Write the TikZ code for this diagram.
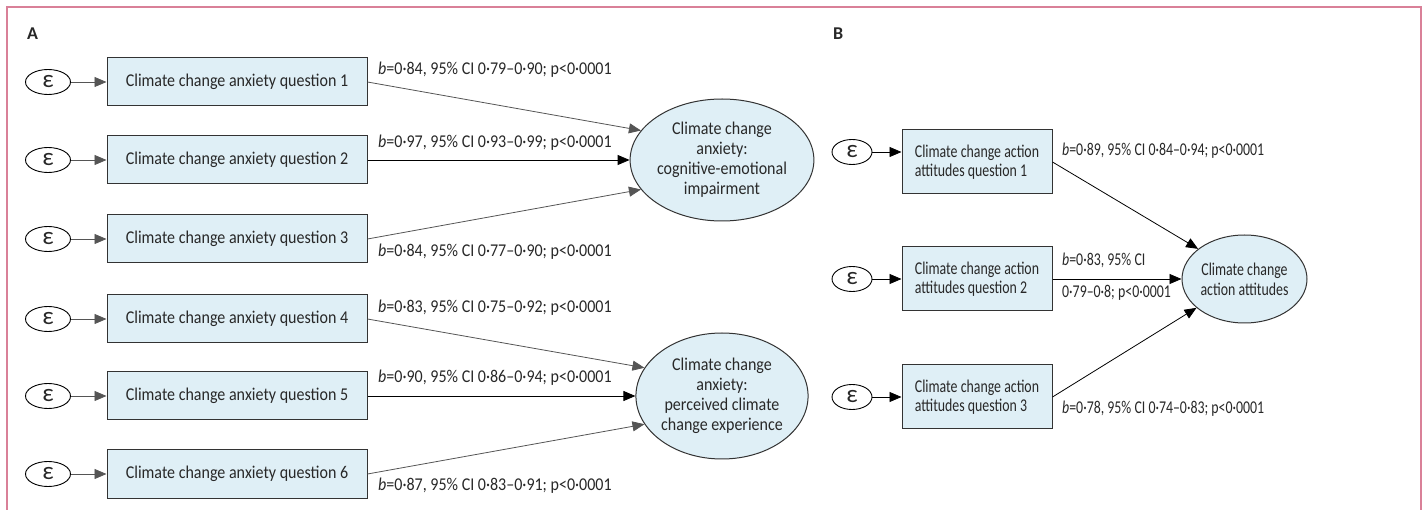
\documentclass[tikz,border=0pt]{standalone}
\usepackage{fontspec}
\setmainfont{Carlito}
\newfontfamily\panelAfont[FakeStretch=0.89]{Carlito}
\newfontfamily\panelBfont[FakeStretch=0.77]{Carlito}
\usetikzlibrary{arrows.meta,shapes.geometric}
\definecolor{framepink}{RGB}{217,128,152}
\definecolor{boxblue}{RGB}{223,239,246}
\definecolor{linegray}{RGB}{85,85,85}
\definecolor{textgray}{RGB}{40,40,40}

\begin{document}
\begin{tikzpicture}[x=1pt,y=-1pt,text=textgray,
    obsbox/.style={draw=black!80,fill=boxblue,line width=1pt,minimum width=260pt,minimum height=48pt,inner sep=0pt,font=\panelAfont\fontsize{18}{20}\selectfont},
    obsboxB/.style={draw=black!80,fill=boxblue,line width=1pt,minimum width=150pt,minimum height=64pt,inner sep=0pt,align=left,font=\panelBfont\fontsize{18}{19}\selectfont},
    errnode/.style={draw=black,ellipse,line width=0.9pt,minimum width=45pt,minimum height=25pt,inner sep=0pt,font=\fontsize{25}{25}\selectfont},
    latent/.style={draw=black!80,fill=boxblue,ellipse,line width=1pt,inner sep=0pt,align=center,font=\panelAfont\fontsize{18}{20}\selectfont},
    loading/.style={-{Triangle[length=12pt,width=10pt]},line width=0.8pt},
    coef/.style={anchor=base west,inner sep=0pt,font=\panelAfont\fontsize{18}{20}\selectfont},
    coefB/.style={anchor=base west,inner sep=0pt,font=\panelBfont\fontsize{18}{20}\selectfont},
    panel/.style={anchor=base west,inner sep=0pt,font=\bfseries\fontsize{18}{20}\selectfont}]
    \useasboundingbox (0,0) rectangle (1425,510);
    % Frame
    \draw[framepink,line width=2pt] (7,510) -- (7,7) -- (1421,7) -- (1421,510);
    % Panel A
    \node[panel] (labA) at (27,40) {A};
    \foreach \i/\y in {1/82,2/160,3/239,4/319,5/396,6/474} {
        \node[errnode] (eA\i) at (48,\y) {ε};
        \node[obsbox] (qA\i) at (237,\y) {Climate change anxiety question \i};
        \draw[loading,linegray] (eA\i) -- (qA\i);
    }
    \node[latent,minimum width=172pt,minimum height=122pt] (fA1) at (722,160) {Climate change\\anxiety:\\cognitive-emotional\\impairment};
    \node[latent,minimum width=172pt,minimum height=126pt] (fA2) at (722,396) {Climate change\\anxiety:\\perceived climate\\change experience};
    \draw[loading,linegray] (qA1.east) -- (fA1.160);
    \draw[loading] (qA2.east) -- (fA1.west);
    \draw[loading,linegray] (qA3.east) -- (fA1.200);
    \draw[loading,linegray] (qA4.east) -- (fA2.160);
    \draw[loading] (qA5.east) -- (fA2.west);
    \draw[loading,linegray] (qA6.east) -- (fA2.200);
    % Loadings A
    \node[coef] (cA1) at (378,75) {\textit{b}=0·84, 95\% CI 0·79–0·90; p<0·0001};
    \node[coef] (cA2) at (378,148) {\textit{b}=0·97, 95\% CI 0·93–0·99; p<0·0001};
    \node[coef] (cA3) at (378,257) {\textit{b}=0·84, 95\% CI 0·77–0·90; p<0·0001};
    \node[coef] (cA4) at (378,313) {\textit{b}=0·83, 95\% CI 0·75–0·92; p<0·0001};
    \node[coef] (cA5) at (378,383) {\textit{b}=0·90, 95\% CI 0·86–0·94; p<0·0001};
    \node[coef] (cA6) at (378,490) {\textit{b}=0·87, 95\% CI 0·83–0·91; p<0·0001};
    % Panel B
    \node[panel] (labB) at (833,40) {B};
    \foreach \i/\ey/\y in {1/152/162,2/279/279,3/397/397} {
        \node[errnode,minimum width=40pt] (eB\i) at (852,\ey) {ε};
        \node[obsboxB] (qB\i) at (977,\y) {Climate change action\\attitudes question \i};
        \draw[loading,black] (eB\i) -- (eB\i -| qB\i.west);
    }
    \node[latent,minimum width=125pt,minimum height=88pt,font=\panelBfont\fontsize{18}{20}\selectfont] (fB) at (1244.5,279) {Climate change\\action attitudes};
    \draw[loading] (qB1.east) -- (fB.147);
    \draw[loading] (qB2.east) -- (fB.west);
    \draw[loading] (qB3.east) -- (fB.211);
    % Loadings B
    \node[coefB] (cB1) at (1062,156) {\textit{b}=0·89, 95\% CI 0·84–0·94; p<0·0001};
    \node[coefB] (cB2) at (1062,266) {\textit{b}=0·83, 95\% CI};
    \node[coefB] (cB2b) at (1062,298) {0·79–0·8; p<0·0001};
    \node[coefB] (cB3) at (1062,414) {\textit{b}=0·78, 95\% CI 0·74–0·83; p<0·0001};
\end{tikzpicture}
\end{document}
